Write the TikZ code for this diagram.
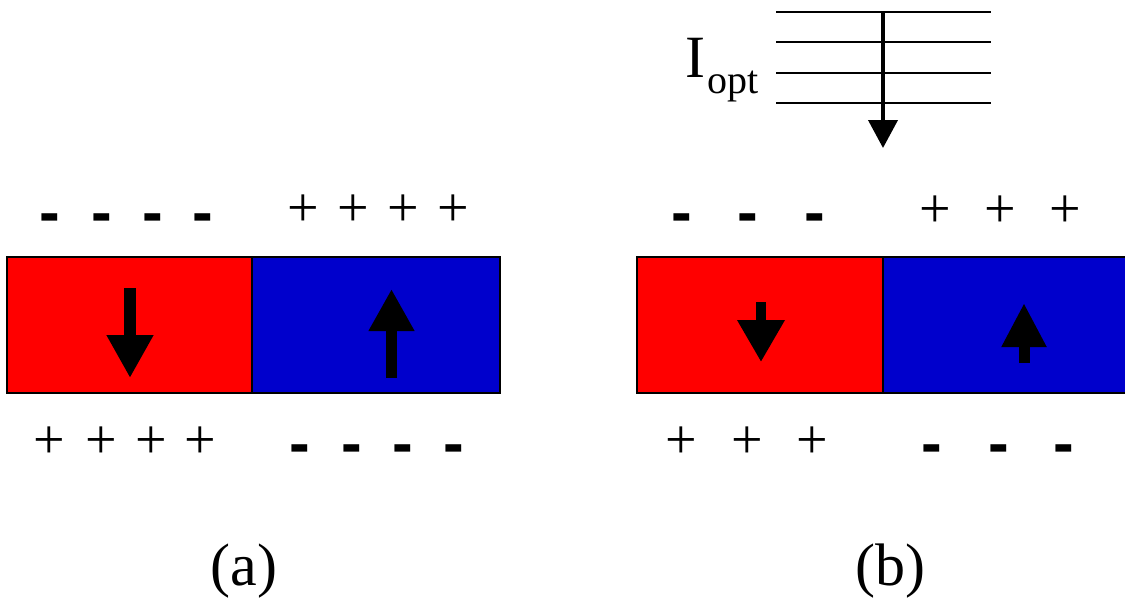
\documentclass[tikz,border=0pt]{standalone}
\usepackage{fontspec}
\setmainfont{Liberation Serif}
\newfontfamily\minusfont{Liberation Sans}
\usetikzlibrary{arrows.meta}
\definecolor{domred}{RGB}{255,0,0}
\definecolor{domblue}{RGB}{0,0,204}
\begin{document}
\begin{tikzpicture}[x=1pt,y=-1pt,
  plussign/.style={inner sep=0pt, font=\fontsize{56}{56}\selectfont},
  minussign/.style={inner sep=0pt, anchor=base, font=\minusfont\bfseries\fontsize{62}{62}\selectfont},
  domframe/.style={draw=black, line width=2pt},
  panellbl/.style={inner sep=0pt, anchor=base, font=\fontsize{60}{60}\selectfont},
  levelline/.style={line width=2pt},
]
\useasboundingbox (0,0) rectangle (1125,603);

% ---------- panel (a)
\fill[domred] (7,257) rectangle (252,393);
\fill[domblue] (252,257) rectangle (500,393);
\draw[domframe] (7,257) rectangle (500,393);
\draw[domframe] (252,257) -- (252,393);
\coordinate (ra1) at (130,288); \coordinate (ra2) at (130,378);
\draw[line width=12pt, -{Triangle[width=44pt,length=43pt]}] (ra1) -- (ra2);
\coordinate (ba1) at (391.5,378); \coordinate (ba2) at (391.5,289);
\draw[line width=11pt, -{Triangle[width=43pt,length=42pt]}] (ba1) -- (ba2);

\foreach \x [count=\i] in {50,102,153,203} \node[minussign] (amt\i) at (\x,233) {-};
\foreach \x [count=\i] in {303,353,403,453} \node[plussign] (apt\i) at (\x,211) {+};
\foreach \x [count=\i] in {49,101,151,200} \node[plussign] (apb\i) at (\x,443) {+};
\foreach \x [count=\i] in {300,352,403,454} \node[minussign] (amb\i) at (\x,464) {-};
\node[panellbl] (labA) at (244,585) {(a)};

% ---------- panel (b)
\fill[domred] (637,257) rectangle (883,393);
\fill[domblue] (883,257) rectangle (1128,393);
\draw[domframe] (1128,257) -- (637,257) -- (637,393) -- (1128,393);
\draw[domframe] (883,257) -- (883,393);
\coordinate (rb1) at (761,302); \coordinate (rb2) at (761,362);
\draw[line width=10pt, -{Triangle[width=45pt,length=42pt]}] (rb1) -- (rb2);
\coordinate (bb1) at (1024,363); \coordinate (bb2) at (1024,303);
\draw[line width=11pt, -{Triangle[width=42pt,length=44pt]}] (bb1) -- (bb2);

\foreach \x [count=\i] in {682,748,815} \node[minussign] (bmt\i) at (\x,233) {-};
\foreach \x [count=\i] in {935,1000,1065} \node[plussign] (bpt\i) at (\x,212) {+};
\foreach \x [count=\i] in {681,747,812} \node[plussign] (bpb\i) at (\x,443) {+};
\foreach \x [count=\i] in {932,999,1064} \node[minussign] (bmb\i) at (\x,464) {-};
\node[panellbl] (labB) at (890,585) {(b)};

% optical intensity
\foreach \y [count=\i] in {12,42,73,103} {
  \coordinate (lvL\i) at (776,\y); \coordinate (lvR\i) at (991,\y);
  \draw[levelline] (lvL\i) -- (lvR\i);
}
\coordinate (ptop) at (883,12); \coordinate (ptip) at (883,148);
\draw[line width=4pt, -{Triangle[width=29pt,length=28pt]}] (ptop) -- (ptip);
\node[inner sep=0pt, anchor=base west, font=\fontsize{60}{60}\selectfont] (iopt) at (685,77)
  {I\kern2pt\raisebox{-16pt}{\fontsize{40}{40}\selectfont opt}};
\end{tikzpicture}
\end{document}
